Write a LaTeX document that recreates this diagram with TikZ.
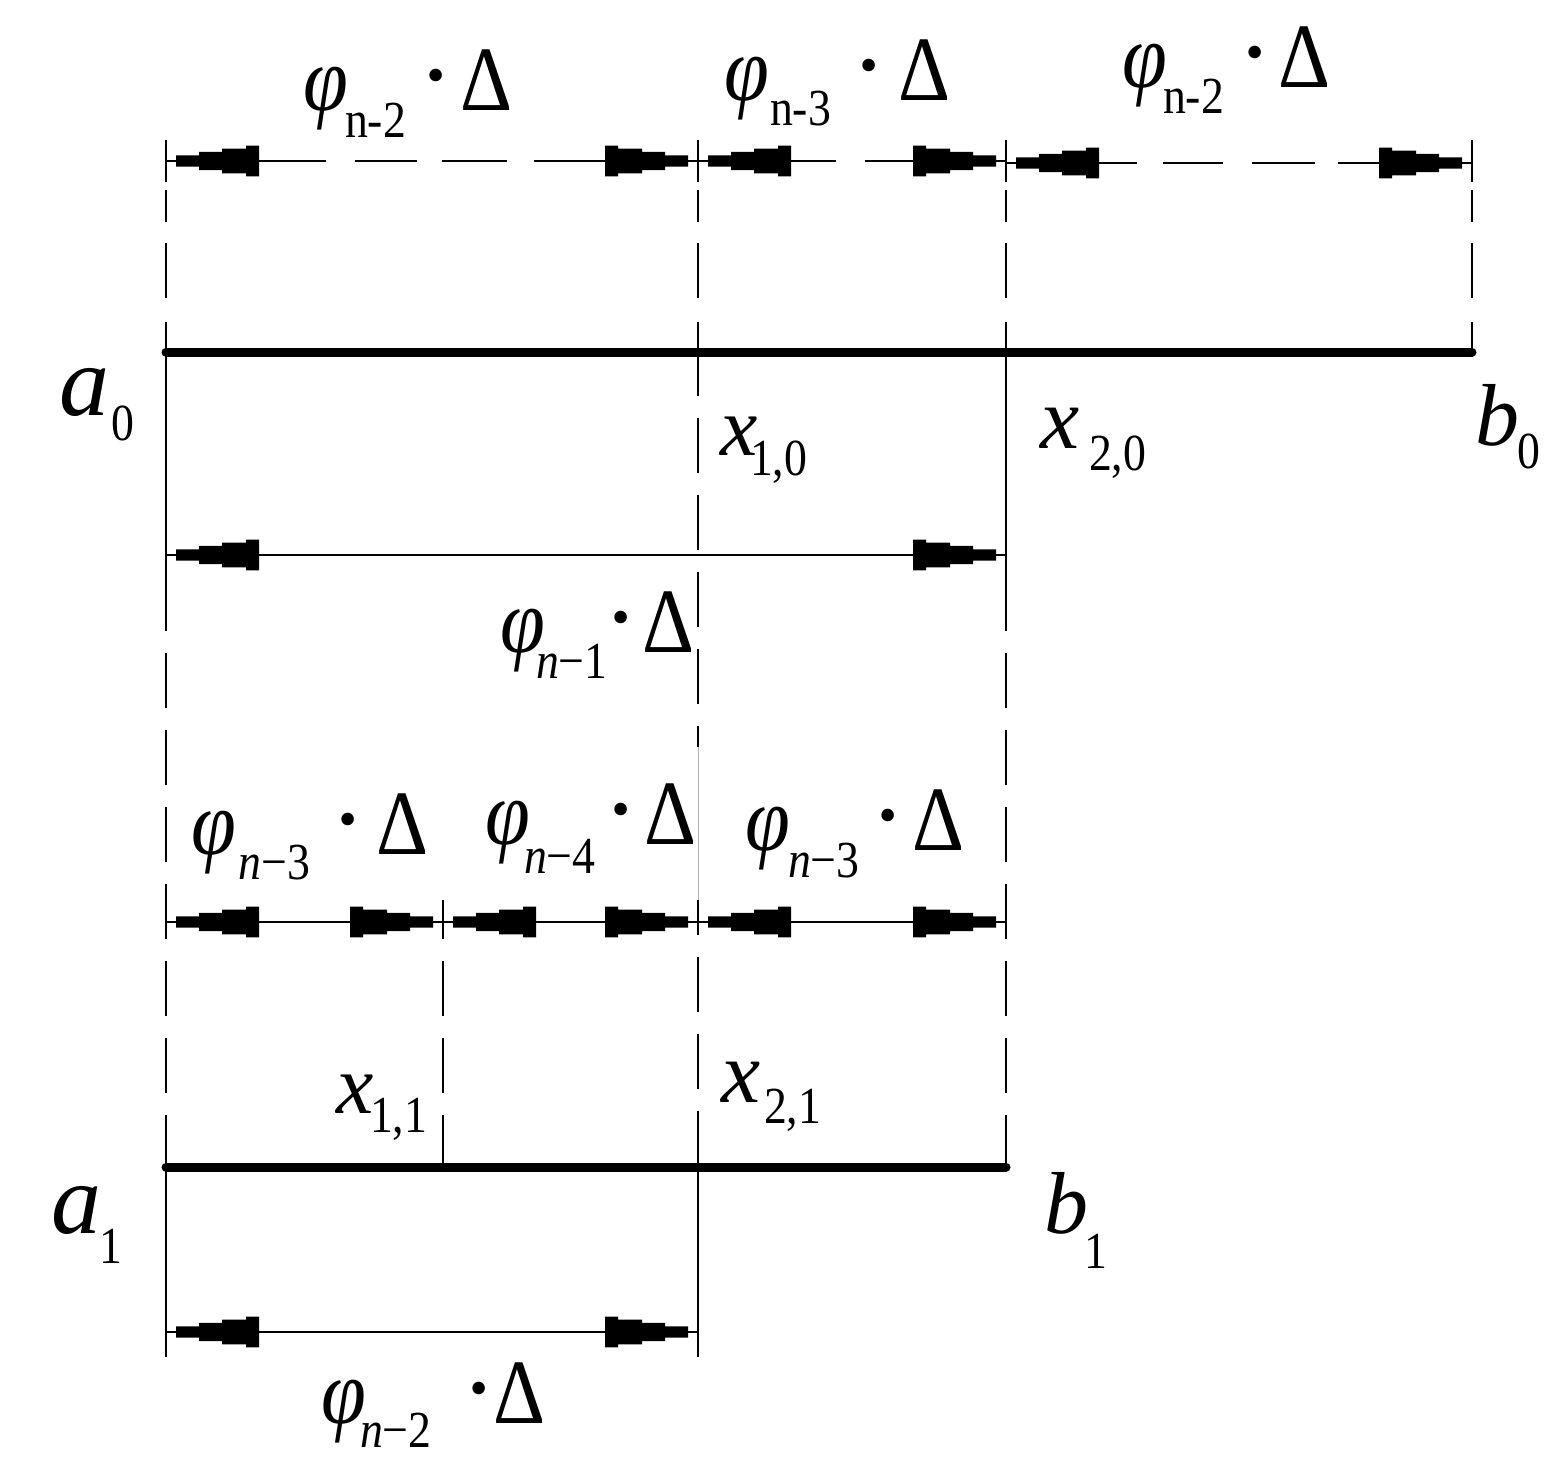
\documentclass[tikz,border=0pt]{standalone}
\usepackage{fontspec}
\usepackage{graphicx}
\setmainfont{Liberation Serif}
\usetikzlibrary{arrows.meta}
\pgfdeclarearrow{
  name = Stair,
  setup code = {
    \pgfarrowssettipend{0pt}
    \pgfarrowssetlineend{0pt}
    \pgfarrowssetbackend{-46.5pt}
    \pgfarrowssetvisualbackend{-46.5pt}
  },
  drawing code = {
    \pgfpathmoveto{\pgfqpoint{-5pt}{2.8pt}}
    \pgfpathlineto{\pgfqpoint{-16.5pt}{2.8pt}}
    \pgfpathlineto{\pgfqpoint{-16.5pt}{4.6pt}}
    \pgfpathlineto{\pgfqpoint{-28pt}{4.6pt}}
    \pgfpathlineto{\pgfqpoint{-28pt}{6.2pt}}
    \pgfpathlineto{\pgfqpoint{-40pt}{6.2pt}}
    \pgfpathlineto{\pgfqpoint{-40pt}{7.7pt}}
    \pgfpathlineto{\pgfqpoint{-46.5pt}{7.7pt}}
    \pgfpathlineto{\pgfqpoint{-46.5pt}{-7.7pt}}
    \pgfpathlineto{\pgfqpoint{-40pt}{-7.7pt}}
    \pgfpathlineto{\pgfqpoint{-40pt}{-6.2pt}}
    \pgfpathlineto{\pgfqpoint{-28pt}{-6.2pt}}
    \pgfpathlineto{\pgfqpoint{-28pt}{-4.6pt}}
    \pgfpathlineto{\pgfqpoint{-16.5pt}{-4.6pt}}
    \pgfpathlineto{\pgfqpoint{-16.5pt}{-2.8pt}}
    \pgfpathlineto{\pgfqpoint{-5pt}{-2.8pt}}
    \pgfpathclose
    \pgfusepathqfill
  }
}
\newcommand\mainsz{\fontsize{46}{50}\selectfont}
\newcommand\subsz{\fontsize{26}{28}\selectfont}
\newcommand\hsq[1]{\scalebox{0.88}[1]{#1}}
\newcommand\bigdelta{\scalebox{0.88}[1]{Δ}}
\newcommand\bigdot{\scalebox{1.15}{·}}
% #1 subscript, #2 subscript offset, #3 subscript drop, #4 dot offset, #5 Delta offset
\newcommand\phlab[5]{%
  \mainsz\rlap{\hsq{\itshape φ}}%
  \rlap{\hspace*{#2}\raisebox{-#3}{\subsz\hsq{#1}}}%
  \rlap{\hspace*{#4}\makebox[0pt]{\bigdot}}%
  \hspace*{#5}\bigdelta}
% #1 letter, #2 letter size, #3 subscript offset, #4 subscript drop, #5 subscript
\newcommand\sublab[5]{%
  \rlap{\fontsize{#2}{#2}\selectfont\itshape #1}\hspace*{#3}\raisebox{-#4}{\subsz\hsq{#5}}}
\begin{document}
\begin{tikzpicture}[x=0.5pt,y=-0.5pt,
  ln/.style={line width=1.4pt},
  dimln/.style={line width=1.1pt, arrows={Stair-Stair}},
  thickln/.style={line width=4.5pt, line cap=round},
  topdash/.style={dash pattern=on 21pt off 4pt on 16pt off 10.5pt on 27.5pt off 12pt on 30pt},
  vdash/.style={dash pattern=on 27.5pt off 11pt},
  faint/.style={line width=0.5pt, gray!60},
  lab/.style={anchor=base west, inner sep=0pt, outer sep=0pt}]
\useasboundingbox (0,0) rectangle (1549,1463);
% coordinates
\coordinate (t0) at (166,140); \coordinate (t1) at (698,140);
\coordinate (t2) at (1006,140); \coordinate (t3) at (1472,140);
\coordinate (a0) at (166,352); \coordinate (x10) at (698,352);
\coordinate (x20) at (1006,352); \coordinate (b0) at (1472,352);
\coordinate (d0) at (166,161); \coordinate (d1) at (698,161);
\coordinate (d2) at (1006,161); \coordinate (d2b) at (1006,163);
\coordinate (d3) at (1472,163);
\coordinate (m0) at (166,555); \coordinate (m2) at (1006,555);
\coordinate (s0) at (166,631); \coordinate (s2) at (1006,631);
\coordinate (g1) at (698,747); \coordinate (g2) at (698,900);
\coordinate (xmt) at (443,900);
\coordinate (l0) at (166,922); \coordinate (lm) at (443,922);
\coordinate (l1) at (698,922); \coordinate (l2) at (1006,922);
\coordinate (a1) at (166,1167); \coordinate (x11) at (443,1167);
\coordinate (x21) at (698,1167); \coordinate (b1) at (1006,1167);
\coordinate (f0) at (166,1332); \coordinate (f1) at (698,1332);
\coordinate (e0) at (166,1357); \coordinate (e1) at (698,1357);
% vertical lines, top part
\draw[ln, topdash] (t0) -- (a0);
\draw[ln, topdash] (t1) -- (x10);
\draw[ln, topdash] (t2) -- (x20);
\draw[ln, topdash] (t3) -- (b0);
% left line
\draw[ln] (a0) -- (s0);
\draw[ln, vdash, dash phase=27.5pt] (s0) -- (a1);
\draw[ln] (a1) -- (e0);
% right line of first interval
\draw[ln] (x20) -- (s2);
\draw[ln, vdash, dash phase=27.5pt] (s2) -- (b1);
% x_{1,0} line
\draw[ln, vdash, dash phase=5.5pt] (x10) -- (g1);
\draw[faint] (g1) -- (g2);
\draw[ln, vdash, dash phase=10pt] (g2) -- (x21);
\draw[ln] (x21) -- (e1);
% x_{1,1} line
\draw[ln, vdash, dash phase=8pt] (xmt) -- (x11);
% thick lines
\draw[thickln] (a0) -- (b0);
\draw[thickln] (a1) -- (b1);
% dimension lines
\draw[dimln, dash pattern=on 80pt off 14.5pt on 31pt off 12.5pt on 32.5pt off 13.5pt on 100pt] (d0) -- (d1);
\draw[dimln, dash pattern=on 69pt off 14.5pt on 100pt] (d1) -- (d2);
\draw[dimln, dash pattern=on 65.5pt off 13pt on 30pt off 14.5pt on 31.5pt off 11.5pt on 100pt] (d2b) -- (d3);
\draw[dimln] (m0) -- (m2);
\draw[dimln] (l0) -- (lm);
\draw[dimln] (lm) -- (l1);
\draw[dimln] (l1) -- (l2);
\draw[dimln] (f0) -- (f1);
% labels
\node[lab] (p1) at (303,110) {\phlab{n-2}{21pt}{13.5pt}{66.5pt}{78.5pt}};
\node[lab] (p2) at (724,100) {\phlab{n-3}{23pt}{12.5pt}{72.5pt}{87pt}};
\node[lab] (p3) at (1122,87) {\phlab{n-2}{20.5pt}{13pt}{66.5pt}{78pt}};
\node[lab] (p4) at (500,652) {\phlab{{\itshape n}−1}{18pt}{13pt}{60.5pt}{71pt}};
\node[lab] (p5) at (191,854) {\phlab{{\itshape n}−3}{24pt}{12.5pt}{78.5pt}{92.5pt}};
\node[lab] (p6) at (485,844) {\phlab{{\itshape n}−4}{19.5pt}{14.5pt}{68pt}{79.5pt}};
\node[lab] (p7) at (745,850) {\phlab{{\itshape n}−3}{21.5pt}{13.5pt}{71.5pt}{83.5pt}};
\node[lab] (p8) at (321,1423) {\phlab{{\itshape n}−2}{19.5pt}{12pt}{79pt}{86pt}};
\node[lab] (la0) at (60,415) {\sublab{a}{50pt}{26pt}{12.5pt}{0}};
\node[lab] (lb0) at (1475,445) {\sublab{b}{44pt}{21pt}{11.5pt}{0}};
\node[lab] (lx10) at (720,455) {\sublab{x}{42pt}{15pt}{10pt}{1,0}};
\node[lab] (lx20) at (1040,448) {\sublab{x}{44pt}{24.5pt}{11pt}{2,0}};
\node[lab] (lx11) at (336,1113) {\sublab{x}{42pt}{17pt}{9.5pt}{1,1}};
\node[lab] (lx21) at (721,1102) {\sublab{x}{44pt}{21.5pt}{10.5pt}{2,1}};
\node[lab] (la1) at (51,1233) {\sublab{a}{50pt}{24.5pt}{15pt}{1}};
\node[lab] (lb1) at (1044,1233) {\sublab{b}{44pt}{20pt}{17.5pt}{1}};
\end{tikzpicture}
\end{document}
